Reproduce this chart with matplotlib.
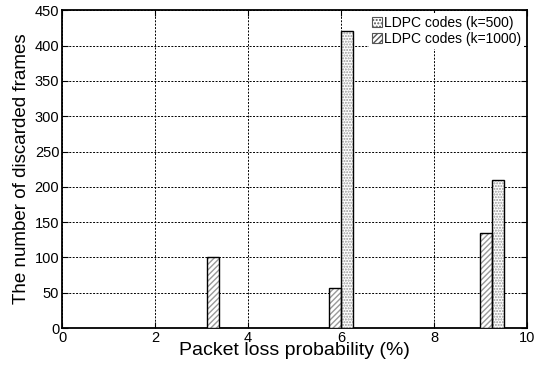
import numpy as np
import matplotlib
matplotlib.use('Agg')
import matplotlib.pyplot as plt
from matplotlib.patches import Patch

plt.rcParams['font.family'] = ['Liberation Sans', 'DejaVu Sans']

# data
loss_pct = [3.375, 6.0, 9.25]          # group centres (% packet loss)
frames_k500 = [0, 420, 209]
frames_k1000 = [100, 57, 135]
labels = ['LDPC codes (k=500)', 'LDPC codes (k=1000)']

width = 0.25
x = np.array(loss_pct)

fig = plt.figure(figsize=(5.35, 3.67), dpi=100, facecolor='w')
ax = fig.add_axes([0.116, 0.106, 0.869, 0.866])

# hatch in grey, outline in black
for xs, vals, hatch in [(x - width / 2, frames_k1000, '//////'),
                        (x + width / 2, frames_k500, '......')]:
    ax.bar(xs, vals, width, color='white', edgecolor='#999999',
           hatch=hatch, linewidth=0, zorder=3)
    ax.bar(xs, vals, width, fill=False, edgecolor='black',
           linewidth=1.0, zorder=4)

ax.set_xlim(0, 10)
ax.set_ylim(0, 450)
ax.set_xticks([0, 2, 4, 6, 8, 10])
ax.set_yticks(range(0, 451, 50))
ax.grid(True, color='black', linestyle=(0, (2, 1.5)), linewidth=0.7, zorder=1)
ax.tick_params(direction='in', top=True, right=True, length=4,
               labelsize=10.5, pad=2)
for s in ax.spines.values():
    s.set_linewidth(1.3)

ax.set_xlabel('Packet loss probability (%)', fontsize=14, labelpad=-2)
ax.set_ylabel('The number of discarded frames', fontsize=13.5)
ax.yaxis.set_label_coords(-0.07, 0.5)

handles = [Patch(facecolor='white', edgecolor='#555555', hatch='.....', linewidth=0.8),
           Patch(facecolor='white', edgecolor='#555555', hatch='//////', linewidth=0.8)]
leg = ax.legend(handles, labels, loc='upper right', fontsize=10,
                handlelength=0.7, handleheight=0.8, handletextpad=0.2,
                labelspacing=0.15, borderaxespad=0.2, borderpad=0.2,
                frameon=True, fancybox=False, framealpha=1)
leg.get_frame().set_edgecolor('none')
leg.set_zorder(5)

plt.savefig('out.png', dpi=100)
